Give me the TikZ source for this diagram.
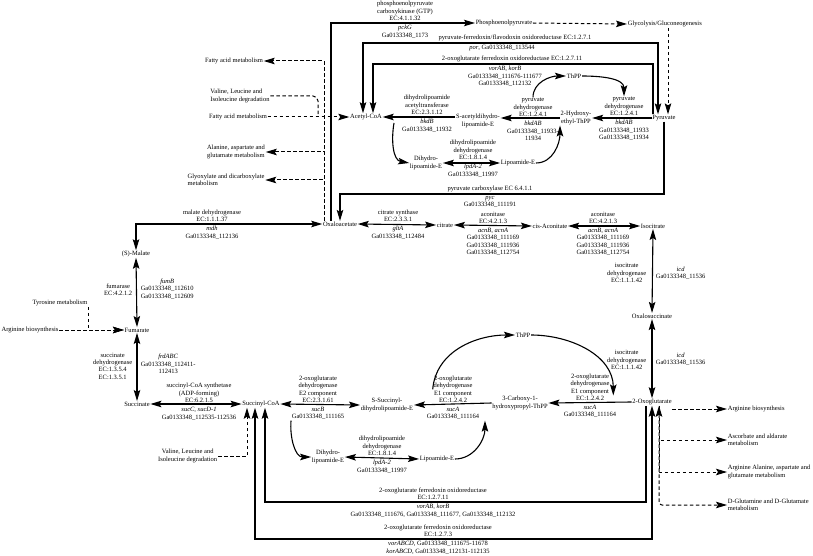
\documentclass[tikz,border=0pt]{standalone}
\usepackage{fontspec}
\setmainfont{Liberation Serif}
\usepackage{tikz}
\usetikzlibrary{arrows.meta,calc}

\begin{document}
\begin{tikzpicture}[x=1pt,y=-1pt,
  every node/.style={font=\fontsize{6.5}{7.4}\selectfont,align=center,inner sep=0.6pt},
  rx/.style={line width=1.1pt,-{Stealth[length=11pt,width=6.5pt,inset=2pt]}},
  rxx/.style={line width=1.1pt,{Stealth[length=11pt,width=6.5pt,inset=2pt]}-{Stealth[length=11pt,width=6.5pt,inset=2pt]}},
  side/.style={line width=1pt,dash pattern=on 3.5pt off 2.5pt,-{Stealth[length=11pt,width=6.5pt,inset=2pt]}},
  sidexx/.style={side,{Stealth[length=11pt,width=6.5pt,inset=2pt]}-{Stealth[length=11pt,width=6.5pt,inset=2pt]}}]
\useasboundingbox (0,0) rectangle (813,556);
% metabolites
\node (pep) [anchor=west] at (475,23) {Phosphoenolpyruvate};
\node (glyc) [anchor=west] at (627,24) {Glycolysis/Gluconeogenesis};
\node (pyr) at (664,118) {Pyruvate};
\node (acoa) at (366,117) {Acetyl-CoA};
\node (sacet) at (478,121) {S-acetyldihydro-\\lipoamide-E};
\node (hethpp) at (576,118) {2-Hydroxy-\\ethyl-ThPP};
\node (thppa) at (574,76) {ThPP};
\node (dhla) at (426,163) {Dihydro-\\lipoamide-E};
\node (lipa) at (518,163) {Lipoamide-E};
\node (oaa) at (340,224) {Oxaloacetate};
\node (cit) at (445,225) {citrate};
\node (cis) at (550,226) {cis-Aconitate};
\node (iso) at (653,226) {Isocitrate};
\node (oxs) at (652,316) {Oxalosuccinate};
\node (oxo) at (652,402) {2-Oxoglutarate};
\node (cthpp) at (520,403) {3-Carboxy-1-\\hydroxypropyl-ThPP};
\node (thppb) at (523,335) {ThPP};
\node (ssuc) at (387,405) {S-Succinyl-\\dihydrolipoamide-E};
\node (sucoa) at (261,404) {Succinyl-CoA};
\node (suc) at (137,404) {Succinate};
\node (fum) at (137,330) {Fumarate};
\node (mal) at (136,254) {(S)-Malate};
\node (dhlb) at (328,457) {Dihydro-\\lipoamide-E};
\node (lipb) at (437,459) {Lipoamide-E};
% other pathways
\node (fatA) at (234,61) {Fatty acid metabolism};
\node (valA) [align=left] at (240,96) {Valine, Leucine and\\Isoleucine degradation};
\node (fatB) at (238,117) {Fatty acid metabolism};
\node (alaA) at (236,152) {Alanine, aspartate and\\glutamate metabolism};
\node (glx) [align=left] at (226,180) {Glyoxylate and dicarboxylate\\metabolism};
\node (tyr) at (60,303) {Tyrosine metabolism};
\node (argA) at (30,330) {Arginine biosynthesis};
\node (valB) [anchor=east] at (218,456) {Valine, Leucine and\\Isoleucine degradation};
\node (argB) [anchor=west] at (727,409) {Arginine biosynthesis};
\node (asc) [anchor=west,align=left] at (727,440) {Ascorbate and aldarate\\metabolism};
\node (alaB) [anchor=west,align=left] at (727,472) {Arginine Alanine, aspartate and\\glutamate metabolism};
\node (dglu) [anchor=west,align=left] at (727,505) {D-Glutamine and D-Glutamate\\metabolism};
% enzymes
\node (pcka) [above] at (405,21.5) {phosphoenolpyruvate\\carboxykinase (GTP)\\EC:4.1.1.32};
\node (pckb) [below] at (405,24.5) {\textit{pckG}\\Ga0133348\_1173};
\node (pora) [above] at (515,41.5) {pyruvate-ferredoxin/flavodoxin oxidoreductase EC:1.2.7.1};
\node (porb) [below] at (502,44.5) {\textit{por}, Ga0133348\_113544};
\node (vora) [above] at (512,62.5) {2-oxoglutarate ferredoxin oxidoreductase EC:1.2.7.11};
\node (vorb) [below] at (505,65.5) {\textit{vorAB}, \textit{korB}\\Ga0133348\_111676-111677\\Ga0133348\_112132};
\node (bkda) [above] at (427,115.5) {dihydrolipoamide\\acetyltransferase\\EC:2.3.1.12};
\node (bkdb) [below] at (427,118.5) {\textit{bkdB}\\Ga0133348\_11932};
\node (pdhLa) [above] at (533,117.5) {pyruvate\\dehydrogenase\\EC:1.2.4.1};
\node (pdhLb) [below] at (533,120.5) {\textit{bkdAB}\\Ga0133348\_11933-\\11934};
\node (pdhRa) [above] at (624,116.5) {pyruvate\\dehydrogenase\\EC:1.2.4.1};
\node (pdhRb) [below] at (624,119.5) {\textit{bkdAB}\\Ga0133348\_11933\\Ga0133348\_11934};
\node (lpdAa) [above] at (473,160.5) {dihydrolipoamide\\dehydrogenase\\EC:1.8.1.4};
\node (lpdAb) [below] at (473,163.5) {\textit{lpdA-2}\\Ga0133348\_11997};
\node (pyca) [above] at (490,192.5) {pyruvate carboxylase EC 6.4.1.1};
\node (pycb) [below] at (490,195.5) {\textit{pyc}\\Ga0133348\_111191};
\node (mdha) [above] at (212,222.5) {malate dehydrogenase\\EC:1.1.1.37};
\node (mdhb) [below] at (212,225.5) {\textit{mdh}\\Ga0133348\_112136};
\node (glta) [above] at (398,222.5) {citrate synthase\\EC:2.3.3.1};
\node (gltb) [below] at (398,225.5) {\textit{gltA}\\Ga0133348\_112484};
\node (acnAa) [above] at (493,224.5) {aconitase\\EC:4.2.1.3};
\node (acnAb) [below] at (493,227.5) {\textit{acnB}, \textit{acnA}\\Ga0133348\_111169\\Ga0133348\_111936\\Ga0133348\_112754};
\node (acnBa) [above] at (603,224.5) {aconitase\\EC:4.2.1.3};
\node (acnBb) [below] at (603,227.5) {\textit{acnB}, \textit{acnA}\\Ga0133348\_111169\\Ga0133348\_111936\\Ga0133348\_112754};
\node (icdAa) [anchor=east] at (647,273) {isocitrate\\dehydrogenase\\EC:1.1.1.42};
\node (icdAb) [anchor=west] at (655,273) {\textit{icd}\\Ga0133348\_11536};
\node (icdBa) [anchor=east] at (647,360) {isocitrate\\dehydrogenase\\EC:1.1.1.42};
\node (icdBb) [anchor=west] at (655,359) {\textit{icd}\\Ga0133348\_11536};
\node (fuma) [anchor=east] at (133,290) {fumarase\\EC:4.2.1.2};
\node (fumb) [anchor=west] at (140,289) {\textit{fumB}\\Ga0133348\_112610\\Ga0133348\_112609};
\node (sdha) [anchor=east] at (133,366) {succinate\\dehydrogenase\\EC:1.3.5.4\\EC:1.3.5.1};
\node (sdhb) [anchor=west] at (140,364) {\textit{frdABC}\\Ga0133348\_112411-\\112413};
\node (scsa) [above] at (199,403.5) {succinyl-CoA synthetase\\(ADP-forming)\\EC:6.2.1.5};
\node (scsb) [below] at (199,406.5) {\textit{sucC}, \textit{sucD-1}\\Ga0133348\_112535-112536};
\node (e2a) [above] at (318,403.5) {2-oxoglutarate\\dehydrogenase\\E2 component\\EC:2.3.1.61};
\node (e2b) [below] at (318,406.5) {\textit{sucB}\\Ga0133348\_111165};
\node (e1La) [above] at (453,403.5) {2-oxoglutarate\\dehydrogenase\\E1 component\\EC:1.2.4.2};
\node (e1Lb) [below] at (453,406.5) {\textit{sucA}\\Ga0133348\_111164};
\node (e1Ra) [above] at (590,401.5) {2-oxoglutarate\\dehydrogenase\\E1 component\\EC:1.2.4.2};
\node (e1Rb) [below] at (590,404.5) {\textit{sucA}\\Ga0133348\_111164};
\node (lpdBa) [above] at (382,456.5) {dihydrolipoamide\\dehydrogenase\\EC:1.8.1.4};
\node (lpdBb) [below] at (382,459.5) {\textit{lpdA-2}\\Ga0133348\_11997};
\node (vorIa) [above] at (433,500.5) {2-oxoglutarate ferredoxin oxidoreductase\\EC:1.2.7.11};
\node (vorIb) [below] at (433,503.5) {\textit{vorAB}, \textit{korB}\\Ga0133348\_111676, Ga0133348\_111677, Ga0133348\_112132};
\node (vorOa) [above] at (438,537.5) {2-oxoglutarate ferredoxin oxidoreductase\\EC:1.2.7.3};
\node (vorOb) [below] at (438,540.5) {\textit{vorABCD}, Ga0133348\_111675-11678\\\textit{korABCD}, Ga0133348\_112131-112135};
% bends
\coordinate (porL) at (363,43);
\coordinate (vorL) at (373,64);
\coordinate (pycL) at (340,194);
\coordinate (vj) at (318,117);
\coordinate (dv) at ([xshift=-16pt]oaa.north);
\coordinate (gp) at ([xshift=4pt]pyr.north);
\coordinate (vorI) at (265,502);
\coordinate (vorO) at (255,539);
\coordinate (ov) at ([xshift=7pt]oxo.south);
\coordinate (sv) at ([xshift=-14pt]sucoa.south);
% connectors
\draw[rx] ([xshift=-9pt]oaa.north) |- (pep.west);
\draw[side] (pep.east) -- (glyc.west);
\draw[side] (gp |- glyc.south) -- (gp);
\draw[rxx] ([xshift=-6pt]pyr.north) |- (porL) -- (porL |- acoa.north);
\draw[rx] ([xshift=-11pt]pyr.north) |- (vorL) -- (vorL |- acoa.north);
\draw[rx] (pyr.south) |- (pycL) -- (oaa.north);
\draw[rx] (sacet.west |- acoa.east) -- (acoa.east);
\draw[rx] (hethpp.west) -- (sacet.east |- hethpp.west);
\draw[rx] (pyr.west) -- (hethpp.east);
\draw[rxx] (dhla.east) -- (lipa.west);
\draw[rx] ([shift={(28,6)}]acoa.center) to[out=260,in=170] (dhla.west);
\draw[rx] (pdhLa.north) to[out=90,in=180] (thppa.west);
\draw[rx] (thppa.east) to[out=0,in=90] (pdhRa.north);
\draw[rx] (lipa.east) to[out=0,in=270] ([xshift=-16pt]hethpp.south);
\draw[side] (fatB.east) -- (acoa.west);
\draw[side,-,rounded corners=5pt] (valA.east) -| (vj);
\draw[side] (dv) |- (fatA.east);
\draw[side] (dv) |- (alaA.east);
\draw[side] (dv) |- (glx.east);
\draw[rxx] (mal.north) |- (oaa.west);
\draw[rxx] (mal.south) -- (fum.north);
\draw[rxx] (fum.south) -- (suc.north);
\draw[side] (tyr.south east) |- (fum.west);
\draw[side] (argA.east) -- (fum.west);
\draw[rxx] (oaa.east) -- (cit.west);
\draw[rxx] (cit.east) -- (cis.west);
\draw[rxx] (cis.east) -- (iso.west);
\draw[rxx] (iso.south) -- (oxs.north);
\draw[rxx] (oxs.south) -- (oxo.north);
\draw[rx] (oxo.west) -- (cthpp.east);
\draw[rx] (cthpp.west) -- (ssuc.east);
\draw[rxx] (sucoa.east) -- (ssuc.west);
\draw[rxx] (suc.east) -- (sucoa.west);
\draw[rxx] (dhlb.east) -- (lipb.west);
\draw[rx] (e1La.west) to[out=85,in=180] (thppb.west);
\draw[rx] (thppb.east) to[out=0,in=90] ($(e1Ra.south east)+(3,-6)$);
\draw[rx] (e2b.south west) to[out=265,in=180] (dhlb.west);
\draw[rx] (lipb.east) to[out=0,in=270] ($(e1Lb.south east)+(5,0)$);
\draw[rx] ([xshift=-6pt]oxo.south) |- (vorI) -- (vorI |- sucoa.south);
\draw[rxx] (oxo.south) |- (vorO) -- (vorO |- sucoa.south);
\draw[side] (valB.east) -| (sv);
\draw[side] (oxo.east |- argB.west) -- (argB.west);
\draw[side] (ov) |- (asc.west);
\draw[side] (ov) |- (alaB.west);
\draw[sidexx,rounded corners=3pt] (ov) |- (dglu.west);
\end{tikzpicture}
\end{document}
